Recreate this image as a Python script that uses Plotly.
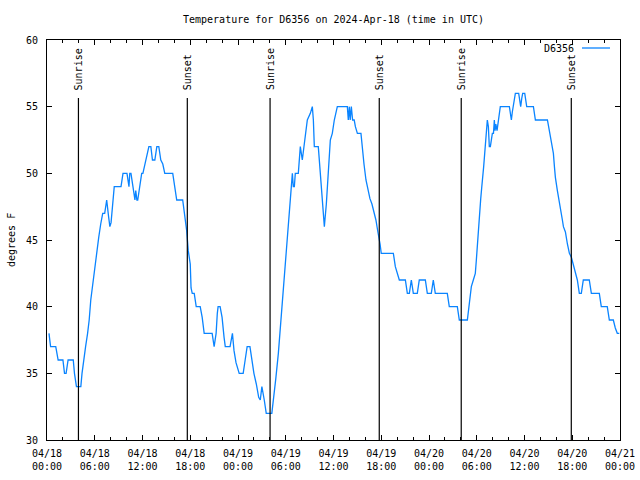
import pandas as pd
import plotly.graph_objects as go

start = pd.Timestamp("2024-04-18 00:00")

hours = [0.25, 0.45, 1.1, 1.4, 2.0, 2.2, 2.4, 2.65, 3.3, 3.45, 3.7, 4.25, 4.4, 4.6, 4.85, 5.1, 5.3, 5.5, 5.7, 5.9, 6.1,
         6.25, 6.5, 6.75, 7.0, 7.25, 7.5, 7.75, 7.9, 8.05, 8.25, 8.45, 9.3, 9.55, 10.05, 10.2, 10.3, 10.4, 10.55, 10.8,
         11.05, 11.15, 11.3, 11.4, 11.55, 11.65, 11.9, 12.05, 12.3, 12.55, 12.8, 13.05, 13.25, 13.55, 13.8, 14.05, 14.3,
         14.55, 14.8, 15.8, 16.05, 16.3, 17.05, 17.3, 17.55, 17.75, 18.0, 18.1, 18.25, 18.5, 18.75, 19.25, 19.5, 19.75,
         20.75, 21.0, 21.25, 21.4, 21.5, 21.75, 22.0, 22.25, 22.4, 23.0, 23.3, 23.5, 23.75, 24.15, 24.65, 24.9, 25.15,
         25.5, 25.75, 26.0, 26.3, 26.6, 26.8, 26.9, 27.0, 27.3, 27.55, 28.25, 28.5, 28.75, 29.07, 29.32, 29.57, 29.83,
         29.95, 30.2, 30.45, 30.7, 30.83, 30.95, 31.08, 31.2, 31.58, 31.83, 32.08, 32.33, 32.46, 32.71, 33.09, 33.34,
         33.47, 33.59, 34.09, 34.34, 34.6, 34.85, 35.1, 35.35, 35.6, 35.85, 36.1, 36.48, 37.74, 37.86, 37.99, 38.1,
         38.24, 38.4, 38.6, 38.75, 39.0, 39.45, 39.6, 39.83, 40.08, 40.33, 40.58, 40.83, 41.08, 41.33, 41.58, 41.71,
         41.85, 42.0, 43.52, 43.77, 44.0, 44.27, 45.03, 45.28, 45.53, 45.78, 46.03, 46.53, 46.78, 47.54, 47.79, 48.29,
         48.54, 48.79, 50.3, 50.55, 51.56, 51.81, 52.82, 53.07, 53.32, 53.57, 53.82, 53.95, 54.07, 54.25, 54.37, 54.5,
         54.62, 54.75, 54.87, 55.0, 55.12, 55.33, 55.46, 55.58, 55.71, 55.96, 56.1, 56.21, 56.3, 56.4, 56.55, 56.67,
         56.8, 56.96, 58.1, 58.22, 58.35, 58.47, 58.6, 58.85, 59.27, 59.4, 59.52, 59.65, 59.77, 60.03, 60.15, 60.28,
         61.12, 61.24, 61.37, 62.88, 63.13, 63.38, 63.63, 63.76, 63.88, 64.13, 64.26, 64.51, 64.76, 64.89, 65.14,
         65.39, 65.64, 65.89, 66.14, 66.39, 66.64, 66.89, 67.14, 67.39, 68.14, 68.4, 69.4, 69.65, 70.4, 70.66, 71.16,
         71.41, 71.66, 71.91]

temps = [38, 37, 37, 36, 36, 35, 35, 36, 36, 35, 34, 34, 35, 36, 37, 38, 39, 40.5, 41.5, 42.5, 43.5,
         44.2, 45.2, 46.2, 47, 47, 48, 46.7, 46, 46.3, 47.7, 49, 49, 50, 50, 49.3, 49, 50, 50, 49,
         48, 48.7, 48, 48, 48.7, 49.2, 50, 50, 50.7, 51.5, 52, 52, 51, 51, 52, 52, 51,
         50.7, 50, 50, 49, 48, 48, 47, 45.7, 44.2, 43.2, 41.4, 41, 41, 40, 40, 39.2, 38,
         38, 37, 38, 39.5, 40, 40, 39.2, 37.7, 37, 37, 38, 36.7, 35.8, 35, 35, 36, 37,
         37, 36, 35, 34.2, 33.2, 33, 33.7, 34, 33, 32, 32, 33.2, 34.6, 36.5, 38.5, 40.5, 42.5,
         43.5, 45.5, 47.5, 49.5, 50, 49, 49, 50, 50, 52, 51, 52.2, 53, 54, 54.5, 55,
         54, 52, 52, 50.2, 47.7, 46, 47.7, 50.2, 52.5, 53, 54, 55, 55, 54, 55, 54,
         55, 54, 54, 53.5, 53, 53, 52, 50.7, 49.5, 48.7, 48.1, 47.7, 47.1, 46.5, 45.6, 45.2,
         44.7, 44, 44, 43, 42.6, 42, 42, 41, 41, 42, 41, 41, 42, 42, 41, 41,
         42, 41, 41, 40, 40, 39, 39, 40.5, 41.5, 42, 42.5, 43.5, 44.7, 46.2, 47.4, 48.1,
         48.9, 49.6, 50.5, 51.5, 52.5, 54, 53.5, 52, 52, 53, 53, 54, 53.2, 53.7, 53.2, 53.7,
         54.5, 55, 55, 54.6, 54, 54.6, 55, 56, 56, 55.6, 55, 55.6, 56, 56, 55.6, 55,
         55, 54.6, 54, 54, 53.1, 52.4, 51.5, 50.5, 49.7, 48.7, 48.2, 47.1, 46.5, 46, 45.6,
         44.7, 44, 43.7, 43.1, 42.7, 42, 41, 41, 42, 42, 41, 41, 40, 40, 39, 39,
         38.4, 38, 38]

sun_hours = [3.95, 17.63, 28.03, 41.75, 52.05, 65.88]
sun_labels = ["Sunrise", "Sunset", "Sunrise", "Sunset", "Sunrise", "Sunset"]
series_name = "D6356"
title_text = "Temperature for D6356 on 2024-Apr-18 (time in UTC)"

FONT = "DejaVu Sans Mono"
times = [start + pd.Timedelta(hours=h) for h in hours]
sun_times = [start + pd.Timedelta(hours=h) for h in sun_hours]

fig = go.Figure()
fig.add_trace(go.Scatter(x=times, y=temps, mode="lines", name=series_name,
                         line=dict(color="#0a84ff", width=1.3), showlegend=False,
                         hoverinfo="skip"))

for t, lab in zip(sun_times, sun_labels):
    fig.add_shape(type="line", x0=t, x1=t, y0=30, y1=55.65, xref="x", yref="y",
                  line=dict(color="black", width=1.2))
    fig.add_annotation(x=t, y=56.1, xref="x", yref="y", text=lab, textangle=-90,
                       showarrow=False, xanchor="center", yanchor="bottom",
                       font=dict(family=FONT, size=10, color="black"))

# legend (text left, sample line right, gnuplot style)
fig.add_annotation(x=(576 - 47) / 573, y=(440 - 48) / 400, xref="paper", yref="paper",
                   text=series_name, showarrow=False, xanchor="right", yanchor="middle",
                   font=dict(family=FONT, size=10, color="black"))
fig.add_shape(type="line", x0=(582 - 47) / 573, x1=(610 - 47) / 573,
              y0=(440 - 48) / 400, y1=(440 - 48) / 400, xref="paper", yref="paper",
              line=dict(color="#0a84ff", width=1.3))

# y axis title
fig.add_annotation(x=(11 - 47) / 573, y=0.5, xref="paper", yref="paper", text="degrees F",
                   textangle=-90, showarrow=False, xanchor="center", yanchor="middle",
                   font=dict(family=FONT, size=10, color="black"))

fig.update_layout(
    width=640, height=480,
    margin=dict(l=47, r=20, t=40, b=40, autoexpand=False),
    paper_bgcolor="white", plot_bgcolor="white",
    font=dict(family=FONT, size=10, color="black"),
    title=dict(text=title_text, x=0.5, xref="paper", xanchor="center",
               y=1 - 19 / 480, yref="container", yanchor="middle", automargin=False,
               font=dict(family=FONT, size=10, color="black")),
    showlegend=False,
    hovermode=False,
)
fig.update_xaxes(
    type="date", range=[start, start + pd.Timedelta(hours=72)], automargin=False,
    tick0=start, dtick=6 * 3600 * 1000, tickformat="%m/%d<br>%H:%M",
    ticks="inside", ticklen=5, tickcolor="black", tickwidth=1,
    minor=dict(dtick=2 * 3600 * 1000, ticks="inside", ticklen=3, tickcolor="black", showgrid=False),
    showline=True, linecolor="black", linewidth=1, mirror="ticks",
    showgrid=False, zeroline=False, ticklabelstandoff=4,
)
fig.update_yaxes(
    range=[30, 60], dtick=5, tick0=30, automargin=False,
    ticks="inside", ticklen=5, tickcolor="black", tickwidth=1,
    showline=True, linecolor="black", linewidth=1, mirror="ticks",
    showgrid=False, zeroline=False, ticklabelstandoff=6,
)

fig.write_html("out.html", config={"displayModeBar": False, "staticPlot": True},
               post_script="document.body.style.margin='0px';document.body.style.overflow='hidden';")
